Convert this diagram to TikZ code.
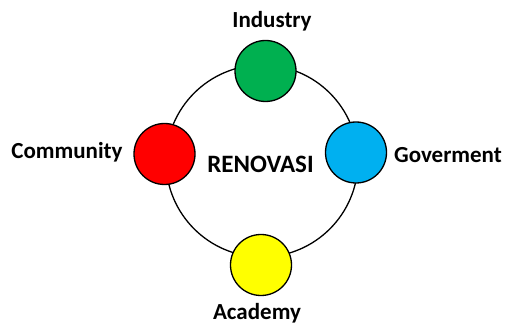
\documentclass[tikz,border=0pt]{standalone}
\usepackage{fontspec}
\setmainfont{Carlito}
\definecolor{cgreen}{RGB}{0,176,80}
\definecolor{cblue}{RGB}{0,176,240}
\definecolor{cred}{RGB}{255,0,0}
\definecolor{cyellow}{RGB}{255,255,0}
\begin{document}
\begin{tikzpicture}[x=1pt,y=-1pt,
  ball/.style={circle,draw=black,line width=1.3pt,minimum size=61pt,inner sep=0pt},
  lbl/.style={font=\fontsize{23}{23}\selectfont\bfseries,anchor=base,inner sep=0pt}]
\useasboundingbox (0,0) rectangle (507,326);
\node[circle,draw=black,line width=1.3pt,minimum size=192pt,inner sep=0pt] (ring) at (262,161) {};
\node[ball,fill=cgreen] (ind) at (265.5,71) {};
\node[ball,fill=cblue] (gov) at (356,152.5) {};
\node[ball,fill=cred] (com) at (164.5,154) {};
\node[ball,fill=cyellow] (aca) at (261,265) {};
\node[lbl] (tind) at (272,28) {Industry};
\node[lbl] (tgov) at (448,163) {Goverment};
\node[lbl] (tcom) at (67,159) {Community};
\node[lbl] (taca) at (257,320) {Academy};
\node[lbl,font=\fontsize{25}{25}\selectfont\bfseries] (tren) at (260.5,173) {RENOVASI};
\end{tikzpicture}
\end{document}
